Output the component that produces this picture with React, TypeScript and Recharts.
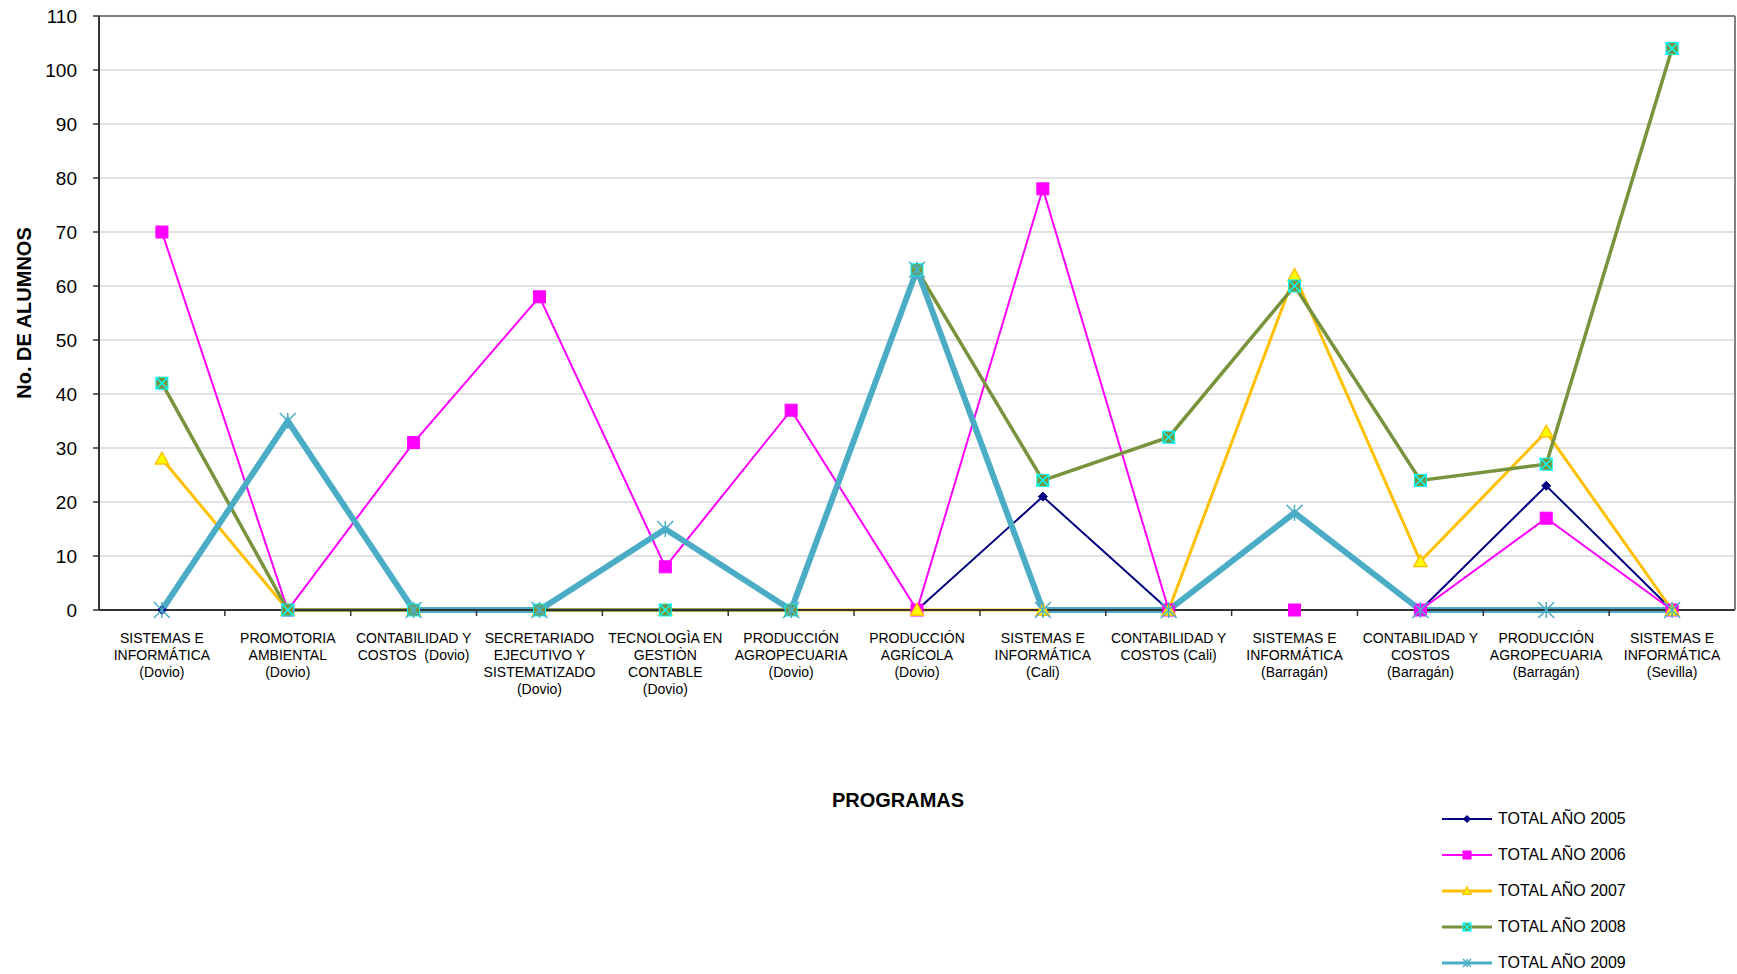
import React from 'react';
import { LineChart, Line, XAxis, YAxis, CartesianGrid, Legend, ReferenceLine, Label } from 'recharts';

// programas (line breaks as in the original sheet)
const programas = [
  'SISTEMAS E\nINFORMÁTICA\n(Dovio)',
  'PROMOTORIA\nAMBIENTAL\n(Dovio)',
  'CONTABILIDAD Y\nCOSTOS  (Dovio)',
  'SECRETARIADO\nEJECUTIVO Y\nSISTEMATIZADO\n(Dovio)',
  'TECNOLOGÌA EN\nGESTIÒN\nCONTABLE\n(Dovio)',
  'PRODUCCIÓN\nAGROPECUARIA\n(Dovio)',
  'PRODUCCIÓN\nAGRÍCOLA\n(Dovio)',
  'SISTEMAS E\nINFORMÁTICA\n(Cali)',
  'CONTABILIDAD Y\nCOSTOS (Cali)',
  'SISTEMAS E\nINFORMÁTICA\n(Barragán)',
  'CONTABILIDAD Y\nCOSTOS\n(Barragán)',
  'PRODUCCIÓN\nAGROPECUARIA\n(Barragán)',
  'SISTEMAS E\nINFORMÁTICA\n(Sevilla)',
];

const total2005 = [0, 0, 0, 0, 0, 0, 0, 21, 0, 0, 0, 23, 0];
const total2006 = [70, 0, 31, 58, 8, 37, 0, 78, 0, 0, 0, 17, 0];
const total2007 = [28, 0, 0, 0, 0, 0, 0, 0, 0, 62, 9, 33, 0];
const total2008 = [42, 0, 0, 0, 0, 0, 63, 24, 32, 60, 24, 27, 104];
const total2009 = [0, 35, 0, 0, 15, 0, 63, 0, 0, 18, 0, 0, 0];

const yTicks = [0, 10, 20, 30, 40, 50, 60, 70, 80, 90, 100, 110];

const data = programas.map((programa, i) => ({
  programa,
  t2005: total2005[i],
  t2006: total2006[i],
  t2007: total2007[i],
  t2008: total2008[i],
  t2009: total2009[i],
}));

const W = 1737;
const H = 974;
const Y_AXIS_W = 99;
const BAND = (W - Y_AXIS_W - 2) / programas.length;

type MarkerKind = 'diamond' | 'square' | 'triangle' | 'xsquare' | 'star';

const series: { key: string; name: string; color: string; width: number; marker: MarkerKind }[] = [
  { key: 't2005', name: 'TOTAL AÑO 2005', color: '#000080', width: 2, marker: 'diamond' },
  { key: 't2006', name: 'TOTAL AÑO 2006', color: '#FF00FF', width: 2, marker: 'square' },
  { key: 't2007', name: 'TOTAL AÑO 2007', color: '#FFC000', width: 3, marker: 'triangle' },
  { key: 't2008', name: 'TOTAL AÑO 2008', color: '#77933C', width: 3.5, marker: 'xsquare' },
  { key: 't2009', name: 'TOTAL AÑO 2009', color: '#4BACC6', width: 6, marker: 'star' },
];

const Marker = ({ kind, cx, cy, s }: { kind: MarkerKind; cx: number; cy: number; s: number }) => {
  const h = s / 2;
  switch (kind) {
    case 'diamond':
      return <polygon points={`${cx},${cy - h} ${cx + h},${cy} ${cx},${cy + h} ${cx - h},${cy}`} fill="#000080" stroke="#000080" />;
    case 'square':
      return <rect x={cx - h} y={cy - h} width={s} height={s} fill="#FF00FF" stroke="#FF00FF" />;
    case 'triangle':
      return <polygon points={`${cx},${cy - h} ${cx + h},${cy + h * 0.8} ${cx - h},${cy + h * 0.8}`} fill="#FFFF00" stroke="#FFC000" strokeWidth={1.5} />;
    case 'xsquare':
      return (
        <g>
          <rect x={cx - h} y={cy - h} width={s} height={s} fill="#77933C" stroke="#00FFFF" strokeWidth={1} />
          <line x1={cx - h} y1={cy - h} x2={cx + h} y2={cy + h} stroke="#00FFFF" strokeWidth={1.5} />
          <line x1={cx + h} y1={cy - h} x2={cx - h} y2={cy + h} stroke="#00FFFF" strokeWidth={1.5} />
        </g>
      );
    case 'star':
    default:
      return (
        <g stroke="#4BACC6" strokeWidth={1.5}>
          <line x1={cx - h} y1={cy - h} x2={cx + h} y2={cy + h} />
          <line x1={cx + h} y1={cy - h} x2={cx - h} y2={cy + h} />
          <line x1={cx} y1={cy - h} x2={cx} y2={cy + h} />
        </g>
      );
  }
};

const dotSize: Record<MarkerKind, number> = { diamond: 9, square: 12, triangle: 13, xsquare: 12, star: 16 };

const makeDot = (kind: MarkerKind) => (props: any) => (
  <Marker key={`${kind}-${props.index}`} kind={kind} cx={props.cx} cy={props.cy} s={dotSize[kind]} />
);

const ProgramTick = (props: any) => {
  const { x, y, payload, index } = props;
  const lines = String(payload.value).split('\n');
  return (
    <g>
      {index > 0 && (
        <line x1={x - BAND / 2} y1={y} x2={x - BAND / 2} y2={y + 6} stroke="#333" strokeWidth={1.5} />
      )}
      <text x={x} y={y} textAnchor="middle" fontSize={14} fill="#000" style={{ whiteSpace: 'pre' }}>
        {lines.map((l, i) => (
          <tspan key={i} x={x} y={y + 33 + i * 17}>{l}</tspan>
        ))}
      </text>
    </g>
  );
};

const LegendBox = () => (
  <div>
    {series.map((s) => (
      <div key={s.key} style={{ display: 'flex', alignItems: 'center', height: 36 }}>
        <svg width={56} height={20}>
          <line x1={2} y1={10} x2={52} y2={10} stroke={s.color} strokeWidth={Math.min(s.width, 3)} />
          <Marker kind={s.marker} cx={27} cy={10} s={s.marker === 'diamond' ? 7 : 8} />
        </svg>
        <span style={{ fontSize: 16, color: '#000', marginLeft: 2 }}>{s.name}</span>
      </div>
    ))}
  </div>
);

const App: React.FC = () => {
  return (
    <div style={{ position: 'absolute', left: 0, top: 0, width: W, height: H, background: '#fff', fontFamily: '"Liberation Sans", Arial, sans-serif' }}>
      <LineChart width={W} height={H} data={data} margin={{ top: 16, right: 0, left: 0, bottom: 0 }}>
        <CartesianGrid vertical={false} stroke="#d9d9d9" strokeWidth={1.5} />
        <XAxis
          dataKey="programa"
          interval={0}
          height={H - 610}
          padding={{ left: BAND / 2, right: BAND / 2 }}
          tickLine={false}
          tickSize={0}
          tickMargin={0}
          axisLine={{ stroke: '#333', strokeWidth: 2 }}
          tick={<ProgramTick />}
        >
          <Label
            content={({ viewBox }: any) => (
              <text x={viewBox.x + viewBox.width / 2 - 19} y={viewBox.y + 197} textAnchor="middle" fontWeight="bold" fontSize={20} fill="#000">
                PROGRAMAS
              </text>
            )}
          />
        </XAxis>
        <YAxis
          width={Y_AXIS_W}
          domain={[0, 110]}
          ticks={yTicks}
          interval={0}
          tickSize={6}
          tickMargin={16}
          tick={{ fill: '#000', fontSize: 19 }}
          tickLine={{ stroke: '#333', strokeWidth: 1.5 }}
          axisLine={{ stroke: '#333', strokeWidth: 2 }}
          label={{ value: 'No. DE ALUMNOS', angle: -90, position: 'insideLeft', offset: 24, style: { textAnchor: 'middle', fontWeight: 'bold', fontSize: 20, fill: '#000' } }}
        />
        <YAxis
          yAxisId="r"
          orientation="right"
          width={2}
          domain={[0, 110]}
          tick={false}
          tickLine={false}
          axisLine={{ stroke: '#808080', strokeWidth: 2 }}
        />
        <ReferenceLine y={110} stroke="#808080" strokeWidth={2} />
        {series.map((s) => (
          <Line
            key={s.key}
            type="linear"
            dataKey={s.key}
            name={s.name}
            stroke={s.color}
            strokeWidth={s.width}
            dot={makeDot(s.marker)}
            activeDot={false}
            isAnimationActive={false}
          />
        ))}
        <Legend
          layout="vertical"
          align="center"
          verticalAlign="middle"
          content={<LegendBox />}
          wrapperStyle={{ left: 1440, top: 801, width: 280, height: 'auto' }}
        />
      </LineChart>
    </div>
  );
};

export default App;
